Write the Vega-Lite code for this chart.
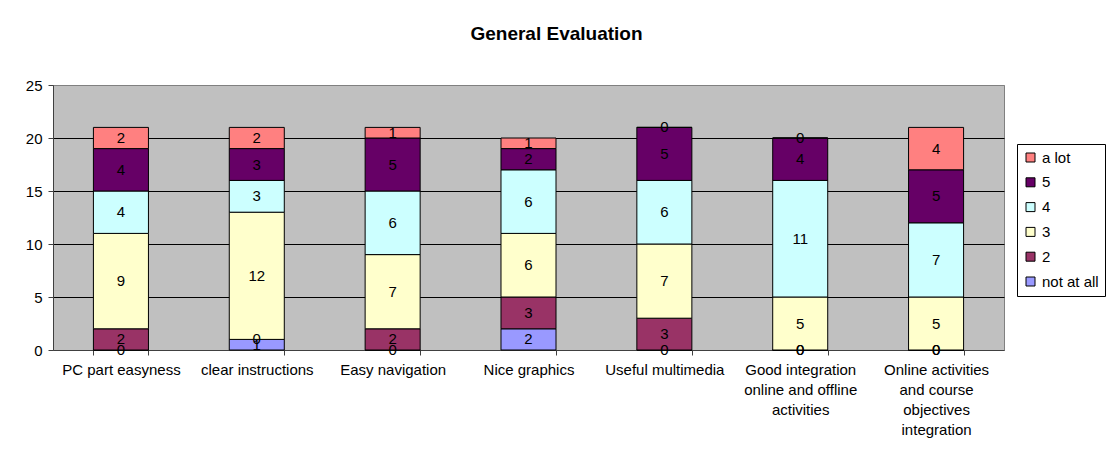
{
  "$schema": "https://vega.github.io/schema/vega-lite/v6.json",
  "autosize": {"type": "none"},
  "width": 951,
  "height": 265,
  "padding": {"left": 53, "top": 85, "right": 106, "bottom": 106},
  "background": "white",
  "title": {
    "text": "General Evaluation",
    "font": "Liberation Sans",
    "fontSize": 19,
    "fontWeight": "bold",
    "color": "black",
    "anchor": "middle",
    "frame": "group",
    "dx": 28,
    "baseline": "middle",
    "offset": 25
  },
  "config": {
    "font": "Liberation Sans",
    "view": {"fill": "#C0C0C0", "stroke": "#808080", "strokeWidth": 1}
  },
  "data": {
    "values": [
      {"cat": "PC part easyness", "rating": "not at all", "rank": 1, "value": 0},
      {"cat": "PC part easyness", "rating": "2", "rank": 2, "value": 2},
      {"cat": "PC part easyness", "rating": "3", "rank": 3, "value": 9},
      {"cat": "PC part easyness", "rating": "4", "rank": 4, "value": 4},
      {"cat": "PC part easyness", "rating": "5", "rank": 5, "value": 4},
      {"cat": "PC part easyness", "rating": "a lot", "rank": 6, "value": 2},
      {"cat": "clear instructions", "rating": "not at all", "rank": 1, "value": 1},
      {"cat": "clear instructions", "rating": "2", "rank": 2, "value": 0},
      {"cat": "clear instructions", "rating": "3", "rank": 3, "value": 12},
      {"cat": "clear instructions", "rating": "4", "rank": 4, "value": 3},
      {"cat": "clear instructions", "rating": "5", "rank": 5, "value": 3},
      {"cat": "clear instructions", "rating": "a lot", "rank": 6, "value": 2},
      {"cat": "Easy navigation", "rating": "not at all", "rank": 1, "value": 0},
      {"cat": "Easy navigation", "rating": "2", "rank": 2, "value": 2},
      {"cat": "Easy navigation", "rating": "3", "rank": 3, "value": 7},
      {"cat": "Easy navigation", "rating": "4", "rank": 4, "value": 6},
      {"cat": "Easy navigation", "rating": "5", "rank": 5, "value": 5},
      {"cat": "Easy navigation", "rating": "a lot", "rank": 6, "value": 1},
      {"cat": "Nice graphics", "rating": "not at all", "rank": 1, "value": 2},
      {"cat": "Nice graphics", "rating": "2", "rank": 2, "value": 3},
      {"cat": "Nice graphics", "rating": "3", "rank": 3, "value": 6},
      {"cat": "Nice graphics", "rating": "4", "rank": 4, "value": 6},
      {"cat": "Nice graphics", "rating": "5", "rank": 5, "value": 2},
      {"cat": "Nice graphics", "rating": "a lot", "rank": 6, "value": 1},
      {"cat": "Useful multimedia", "rating": "not at all", "rank": 1, "value": 0},
      {"cat": "Useful multimedia", "rating": "2", "rank": 2, "value": 3},
      {"cat": "Useful multimedia", "rating": "3", "rank": 3, "value": 7},
      {"cat": "Useful multimedia", "rating": "4", "rank": 4, "value": 6},
      {"cat": "Useful multimedia", "rating": "5", "rank": 5, "value": 5},
      {"cat": "Useful multimedia", "rating": "a lot", "rank": 6, "value": 0},
      {"cat": "Good integration online and offline activities", "rating": "not at all", "rank": 1, "value": 0},
      {"cat": "Good integration online and offline activities", "rating": "2", "rank": 2, "value": 0},
      {"cat": "Good integration online and offline activities", "rating": "3", "rank": 3, "value": 5},
      {"cat": "Good integration online and offline activities", "rating": "4", "rank": 4, "value": 11},
      {"cat": "Good integration online and offline activities", "rating": "5", "rank": 5, "value": 4},
      {"cat": "Good integration online and offline activities", "rating": "a lot", "rank": 6, "value": 0},
      {"cat": "Online activities and course objectives integration", "rating": "not at all", "rank": 1, "value": 0},
      {"cat": "Online activities and course objectives integration", "rating": "2", "rank": 2, "value": 0},
      {"cat": "Online activities and course objectives integration", "rating": "3", "rank": 3, "value": 5},
      {"cat": "Online activities and course objectives integration", "rating": "4", "rank": 4, "value": 7},
      {"cat": "Online activities and course objectives integration", "rating": "5", "rank": 5, "value": 5},
      {"cat": "Online activities and course objectives integration", "rating": "a lot", "rank": 6, "value": 4}
    ]
  },
  "transform": [
    {"stack": "value", "groupby": ["cat"], "sort": [{"field": "rank", "order": "ascending"}], "as": ["y0", "y1"]},
    {"calculate": "(datum.y0 + datum.y1) / 2", "as": "ymid"}
  ],
  "encoding": {
    "x": {
      "field": "cat",
      "type": "nominal",
      "sort": null,
      "title": null,
      "scale": {"paddingInner": 0.595, "paddingOuter": 0.2975},
      "axis": {
        "labelAngle": 0,
        "labelFont": "Liberation Sans",
        "labelFontSize": 15,
        "labelColor": "black",
        "labelLineHeight": 20,
        "labelPadding": 7,
        "labelBaseline": "top",
        "labelLimit": 200,
        "tickBand": "extent",
        "tickSize": 5,
        "tickColor": "#404040",
        "domainColor": "#404040",
        "grid": false,
        "labelExpr": "datum.value == 'Good integration online and offline activities' ? ['Good integration', 'online and offline', 'activities'] : datum.value == 'Online activities and course objectives integration' ? ['Online activities', 'and course', 'objectives', 'integration'] : datum.value"
      }
    }
  },
  "layer": [
    {
      "mark": {"type": "bar", "stroke": "black", "strokeWidth": 1},
      "encoding": {
        "y": {
          "field": "y0",
          "type": "quantitative",
          "scale": {"domain": [0, 25], "nice": false},
          "title": null,
          "axis": {
            "values": [0, 5, 10, 15, 20, 25],
            "labelFont": "Liberation Sans",
            "labelFontSize": 15,
            "labelColor": "black",
            "labelPadding": 6,
            "tickSize": 5,
            "tickColor": "#404040",
            "domainColor": "#404040",
            "grid": true,
            "gridColor": {"condition": {"test": "datum.value == 25 || datum.value == 0", "value": "#808080"}, "value": "black"},
            "gridOpacity": 1,
            "gridWidth": 1
          }
        },
        "y2": {"field": "y1"},
        "color": {
          "field": "rating",
          "type": "nominal",
          "scale": {
            "domain": ["a lot", "5", "4", "3", "2", "not at all"],
            "range": ["#FF8080", "#660066", "#CCFFFF", "#FFFFCC", "#993366", "#9999FF"]
          },
          "legend": {
            "title": null,
            "orient": "none",
            "legendX": 964,
            "legendY": 59,
            "fillColor": "white",
            "strokeColor": "black",
            "padding": 6,
            "rowPadding": 8.8,
            "symbolType": "square",
            "symbolSize": 81,
            "symbolStrokeColor": "black",
            "symbolStrokeWidth": 1,
            "symbolOpacity": 1,
            "labelFont": "Liberation Sans",
            "labelFontSize": 15,
            "labelColor": "black",
            "labelOffset": 4
          }
        }
      }
    },
    {
      "mark": {"type": "text", "font": "Liberation Sans", "fontSize": 15, "color": "black", "baseline": "middle", "align": "center"},
      "encoding": {
        "y": {"field": "ymid", "type": "quantitative"},
        "text": {"field": "value", "type": "quantitative"}
      }
    }
  ]
}
